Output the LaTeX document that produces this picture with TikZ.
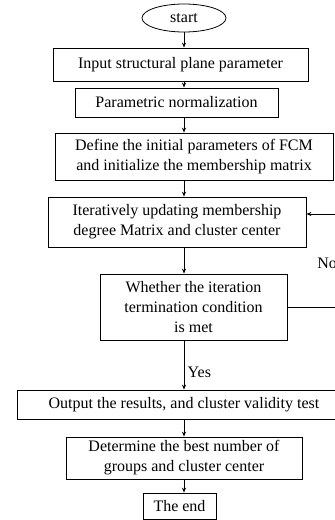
\documentclass[tikz,border=0pt]{standalone}
\usepackage{fontspec}
\setmainfont{Liberation Serif}
\usetikzlibrary{arrows.meta,shapes.geometric}
\tikzset{
  box/.style={draw,rectangle,inner sep=0pt,align=center},
  term/.style={draw,ellipse,inner sep=0pt},
  arr/.style={-{Stealth[length=5pt,width=4pt]}},
}
\begin{document}
\begin{tikzpicture}[x=1pt,y=-1pt,line width=.8pt,font=\fontsize{16}{20}\selectfont]
      \path[use as bounding box,clip] (0,0) rectangle (335,520);
      \coordinate (X) at (184,0);

      \node[term,minimum width=84pt,minimum height=28pt] (S) at (184,18) {start};
      \node[box,minimum width=255pt,minimum height=33pt] (B1) at (180.5,64.5) {Input structural plane parameter};
      \node[box,minimum width=203pt,minimum height=29pt] (B2) at (176.5,102.5) {Parametric normalization};
      \node[box,minimum width=278pt,minimum height=47pt] (B3) at (194,156.5) {Define the initial parameters of FCM\\and initialize the membership matrix};
      \node[box,minimum width=258pt,minimum height=50pt] (B4) at (177,222) {Iteratively updating membership\\degree Matrix and cluster center};
      \node[box,minimum width=187pt,minimum height=66pt] (B5) at (193.5,307) {Whether the iteration\\termination condition\\is met};
      \node[box,minimum width=334pt,minimum height=29pt] (B6) at (184,404.5) {Output the results, and cluster validity test};
      \node[box,minimum width=236pt,minimum height=42pt] (B7) at (184,458) {Determine the best number of\\groups and cluster center};
      \node[box,minimum width=73pt,minimum height=26pt] (E) at (179.5,506) {The end};

      \node[anchor=west,inner sep=0pt] (No) at (317,263) {No};

      \draw[arr] (X |- S.south) -- (X |- B1.north);
      \draw[arr] (X |- B1.south) -- (X |- B2.north);
      \draw[arr] (X |- B2.south) -- (X |- B3.north);
      \draw[arr] (X |- B3.south) -- (X |- B4.north);
      \draw[arr] (X |- B4.south) -- (X |- B5.north);
      \draw[arr] (X |- B5.south) -- node[right,pos=.65] {Yes} (X |- B6.north);
      \draw[arr] (X |- B6.south) -- (X |- B7.north);
      \draw[arr] (X |- B7.south) -- (X |- E.north);
      \draw[arr] (B5.east) -- ++(60,0) |- ([yshift=8pt]B4.east);
    \end{tikzpicture}
\end{document}
